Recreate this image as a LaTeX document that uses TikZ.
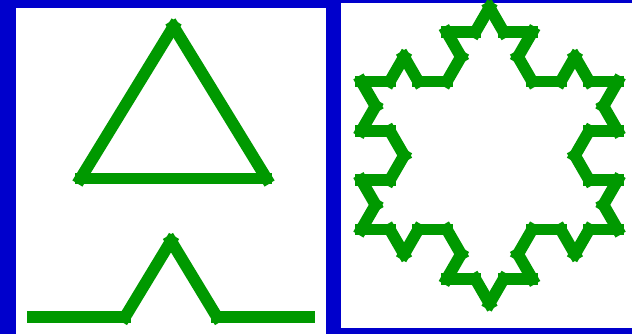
\documentclass[tikz,border=0pt]{standalone}
\usepackage{tikz}

\definecolor{panelblue}{RGB}{0,0,204}
\definecolor{kochgreen}{RGB}{0,153,0}

\begin{document}
\begin{tikzpicture}[x=1in, y=1in,
  koch/.style={draw=kochgreen, line width=0.118in, line cap=rect}]
\fill[panelblue] (0,-3.34) rectangle (6.32,0);
\fill[white] (0.16,-3.34) rectangle (3.26,-0.08);
\fill[white] (3.41,-3.28) rectangle (6.32,-0.03);
% starting triangle
\draw[koch] (0.805,-1.785) -- (2.665,-1.785);
\draw[koch] (2.665,-1.785) -- (1.735,-0.265);
\draw[koch] (1.735,-0.265) -- (0.805,-1.785);
% generator
\draw[koch] (0.33,-3.17) -- (1.25,-3.17);
\draw[koch] (1.25,-3.17) -- (1.71,-2.41);
\draw[koch] (1.71,-2.41) -- (2.17,-3.17);
\draw[koch] (2.17,-3.17) -- (3.09,-3.17);
% snowflake, right side
\draw[koch] (4.895,-0.075) -- (5.0374,-0.3217);
\draw[koch] (5.0374,-0.3217) -- (5.3222,-0.3217);
\draw[koch] (5.3222,-0.3217) -- (5.1798,-0.5683);
\draw[koch] (5.1798,-0.5683) -- (5.3222,-0.8150);
\draw[koch] (5.3222,-0.8150) -- (5.6071,-0.8150);
\draw[koch] (5.6071,-0.8150) -- (5.7495,-0.5683);
\draw[koch] (5.7495,-0.5683) -- (5.8919,-0.8150);
\draw[koch] (5.8919,-0.8150) -- (6.1767,-0.8150);
\draw[koch] (6.1767,-0.8150) -- (6.0343,-1.0616);
\draw[koch] (6.0343,-1.0616) -- (6.1767,-1.3083);
\draw[koch] (6.1767,-1.3083) -- (5.8919,-1.3083);
\draw[koch] (5.8919,-1.3083) -- (5.7495,-1.5550);
\draw[koch] (5.7495,-1.5550) -- (5.8919,-1.8016);
\draw[koch] (5.8919,-1.8016) -- (6.1767,-1.8016);
\draw[koch] (6.1767,-1.8016) -- (6.0343,-2.0483);
\draw[koch] (6.0343,-2.0483) -- (6.1767,-2.2949);
% snowflake, bottom side
\draw[koch] (6.1767,-2.2949) -- (5.8919,-2.2949);
\draw[koch] (5.8919,-2.2949) -- (5.7495,-2.5416);
\draw[koch] (5.7495,-2.5416) -- (5.6071,-2.2949);
\draw[koch] (5.6071,-2.2949) -- (5.3222,-2.2949);
\draw[koch] (5.3222,-2.2949) -- (5.1798,-2.5416);
\draw[koch] (5.1798,-2.5416) -- (5.3222,-2.7883);
\draw[koch] (5.3222,-2.7883) -- (5.0374,-2.7883);
\draw[koch] (5.0374,-2.7883) -- (4.8950,-3.0349);
\draw[koch] (4.8950,-3.0349) -- (4.7526,-2.7883);
\draw[koch] (4.7526,-2.7883) -- (4.4678,-2.7883);
\draw[koch] (4.4678,-2.7883) -- (4.6102,-2.5416);
\draw[koch] (4.6102,-2.5416) -- (4.4678,-2.2949);
\draw[koch] (4.4678,-2.2949) -- (4.1830,-2.2949);
\draw[koch] (4.1830,-2.2949) -- (4.0405,-2.5416);
\draw[koch] (4.0405,-2.5416) -- (3.8981,-2.2949);
\draw[koch] (3.8981,-2.2949) -- (3.6133,-2.2949);
% snowflake, left side
\draw[koch] (3.6133,-2.2949) -- (3.7557,-2.0483);
\draw[koch] (3.7557,-2.0483) -- (3.6133,-1.8016);
\draw[koch] (3.6133,-1.8016) -- (3.8981,-1.8016);
\draw[koch] (3.8981,-1.8016) -- (4.0405,-1.5550);
\draw[koch] (4.0405,-1.5550) -- (3.8981,-1.3083);
\draw[koch] (3.8981,-1.3083) -- (3.6133,-1.3083);
\draw[koch] (3.6133,-1.3083) -- (3.7557,-1.0616);
\draw[koch] (3.7557,-1.0616) -- (3.6133,-0.8150);
\draw[koch] (3.6133,-0.8150) -- (3.8981,-0.8150);
\draw[koch] (3.8981,-0.8150) -- (4.0405,-0.5683);
\draw[koch] (4.0405,-0.5683) -- (4.1830,-0.8150);
\draw[koch] (4.1830,-0.8150) -- (4.4678,-0.8150);
\draw[koch] (4.4678,-0.8150) -- (4.6102,-0.5683);
\draw[koch] (4.6102,-0.5683) -- (4.4678,-0.3217);
\draw[koch] (4.4678,-0.3217) -- (4.7526,-0.3217);
\draw[koch] (4.7526,-0.3217) -- (4.8950,-0.0750);
\path (0,-3.34) rectangle (6.32,0);
\end{tikzpicture}
\end{document}
